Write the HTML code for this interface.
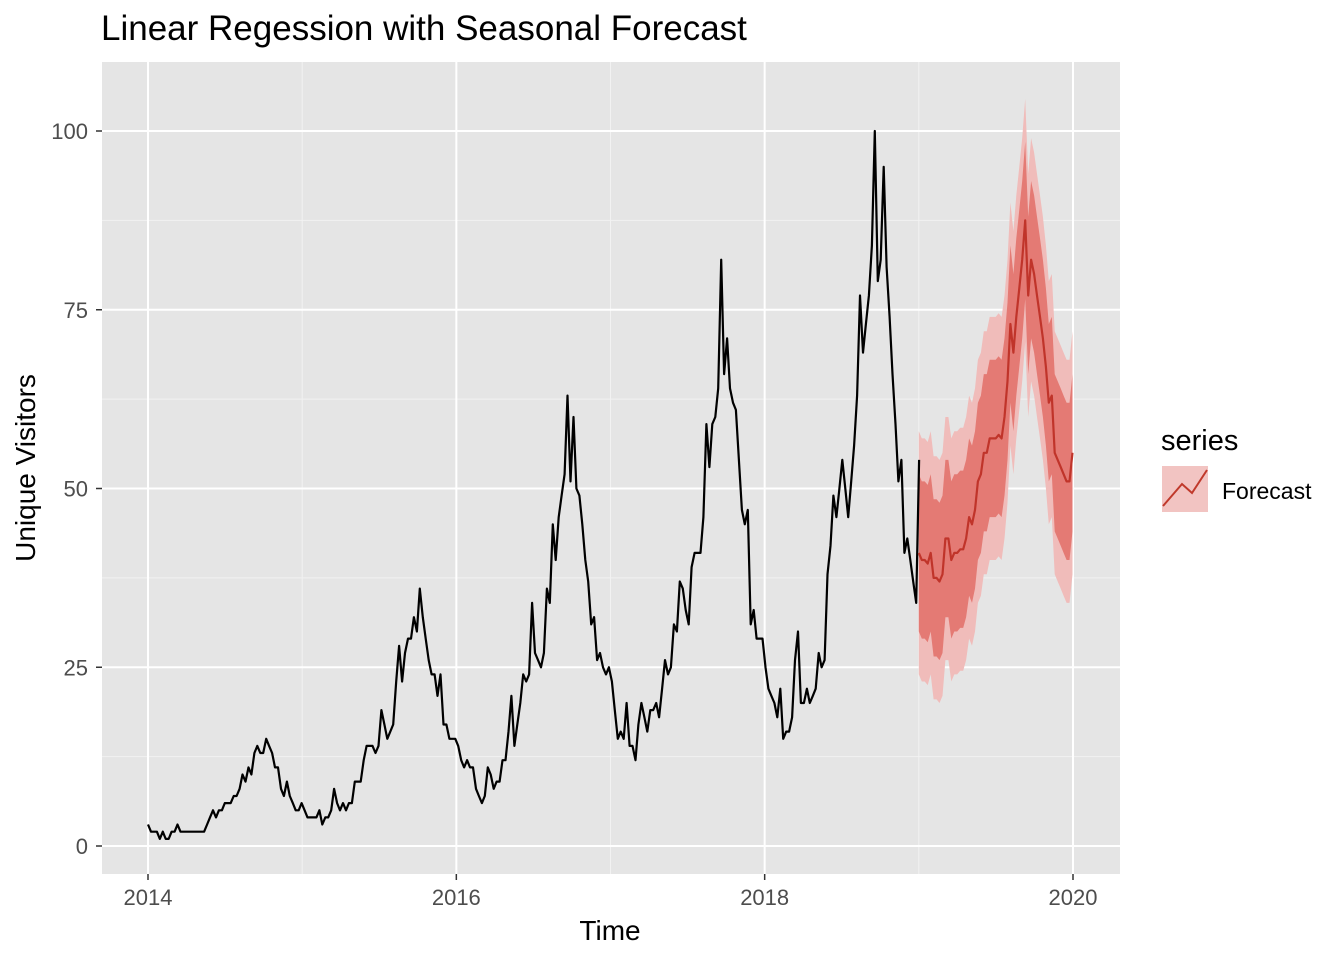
<!DOCTYPE html>
<html><head><meta charset="utf-8"><style>
body{margin:0;background:#fff;}
svg{display:block;font-family:"Liberation Sans",Arial,sans-serif;}
</style></head><body>
<svg id="chart" width="1344" height="960" viewBox="0 0 1344 960">
<rect x="102" y="62" width="1018" height="812" fill="#e5e5e5"/>
<g id="grid"></g>
<g id="bands"></g>
<g id="lines"></g>
<g id="axes"></g>
<text x="101" y="40" font-size="35" fill="#000">Linear Regession with Seasonal Forecast</text>
<text x="610" y="940" font-size="28" text-anchor="middle">Time</text>
<text transform="translate(35,468) rotate(-90)" font-size="28" text-anchor="middle">Unique Visitors</text>
<g>
<text x="1161" y="450" font-size="29">series</text>
<rect x="1162" y="466" width="46" height="46" fill="#f2c4c2"/>
<polyline points="1163,506 1182,484 1192,493 1207,470" fill="none" stroke="#c0392b" stroke-width="2"/>
<text x="1222" y="499" font-size="23">Forecast</text>
</g>
</svg>
<script>
const history = [3,2,2,2,1,2,1,1,2,2,3,2,2,2,2,2,2,2,2,2,3,4,5,4,5,5,6,6,6,7,7,8,10,9,11,10,13,14,13,13,15,14,13,11,11,8,7,9,7,6,5,5,
6,5,4,4,4,4,5,3,4,4,5,8,6,5,6,5,6,6,9,9,9,12,14,14,14,13,14,19,17,15,16,17,23,28,23,27,29,29,32,30,36,32,29,26,24,24,21,24,17,17,15,15,
15,14,12,11,12,11,11,8,7,6,7,11,10,8,9,9,12,12,16,21,14,17,20,24,23,24,34,27,26,25,27,36,34,45,40,46,49,52,63,51,60,50,49,45,40,37,31,32,26,27,25,24,
25,23,19,15,16,15,20,14,14,12,17,20,18,16,19,19,20,18,22,26,24,25,31,30,37,36,33,31,39,41,41,41,46,59,53,59,60,64,82,66,71,64,62,61,54,47,45,47,31,33,29,29,
29,25,22,21,20,18,22,15,16,16,18,26,30,20,20,22,20,21,22,27,25,26,38,42,49,46,50,54,50,46,51,56,63,77,69,73,77,84,100,79,82,95,81,74,66,59,51,54,41,43,40,37,34,54];
const fcMean = [41,40,40,39.5,41,37.5,37.5,37,38,43,43,40,41,41,41.5,41.5,43,46,45,47,51,52,55,55,57,57,57,57.5,57,60,65,73,69,74,78,82,87.5,77,82,80,77,74,71,67,62,63,55,54,53,52,51,51,55];
const hi80 = [52,51,51,50.5,52,48.5,48.5,48,49,54,54,51,52,52,52.5,52.5,54,57,56,58,62,63,66,66,68,68,68,68.5,68,71,76,84,80,85,89,93,98.5,88,93,91,88,85,82,78,73,74,66,65,64,63,62,62,66];
const lo80 = [30,29,29,28.5,30,26.5,26.5,26,27,32,32,29,30,30,30.5,30.5,32,35,34,36,40,41,44,44,46,46,46,46.5,46,49,54,62,58,63,67,71,76.5,66,71,69,66,63,60,56,51,52,44,43,42,41,40,40,44];
const hi95 = [58,57,57,56.5,58,54.5,54.5,54,55,60,60,57,58,58,58.5,58.5,60,63,62,64,68,69,72,72,74,74,74,74.5,74,77,82,90,86,91,95,99,104.5,94,99,97,94,91,88,84,79,80,72,71,70,69,68,68,72];
const lo95 = [24,23,23,22.5,24,20.5,20.5,20,21,26,26,23,24,24,24.5,24.5,26,29,28,30,34,35,38,38,40,40,40,40.5,40,43,48,56,52,57,61,65,70.5,60,65,63,60,57,54,50,45,46,38,37,36,35,34,34,38];
const xTicks = [2014,2016,2018,2020];
const yTicks = [0,25,50,75,100];
const startYear = 2014, fcStart = 2019, weeksPerYear = 52.18;

const NS = "http://www.w3.org/2000/svg";
const X0=148, X1=1073, Y0=846, Y100=131;
function sx(t){return X0+(t-2014)*(X1-X0)/6;}
function sy(v){return Y0+(v)*(Y100-Y0)/100;}
function mk(tag,attrs,parent){const e=document.createElementNS(NS,tag);for(const k in attrs)e.setAttribute(k,attrs[k]);parent.appendChild(e);return e;}
const grid=document.getElementById('grid'), axes=document.getElementById('axes');
for(let i=0;i<yTicks.length-1;i++){const v=(yTicks[i]+yTicks[i+1])/2;
 const l=mk('line',{x1:102,x2:1120,y1:sy(v),y2:sy(v),stroke:'#f2f2f2','stroke-width':1},grid);
 
 }
for(let i=0;i<xTicks.length-1;i++){const t=(xTicks[i]+xTicks[i+1])/2;
 const l=mk('line',{x1:sx(t),x2:sx(t),y1:62,y2:874,stroke:'#f2f2f2','stroke-width':1},grid);
 
 }
yTicks.forEach(v=>{
 const l=mk('line',{x1:102,x2:1120,y1:sy(v),y2:sy(v),stroke:'#fff','stroke-width':2},grid);
 
 
 mk('line',{x1:96,x2:102,y1:sy(v),y2:sy(v),stroke:'#333','stroke-width':1.5},axes);
 const tx=mk('text',{x:88,y:sy(v)+8,'font-size':22,'text-anchor':'end',fill:'#4d4d4d'},axes);
 tx.textContent=v;
 
 
});
xTicks.forEach(t=>{
 const l=mk('line',{x1:sx(t),x2:sx(t),y1:62,y2:874,stroke:'#fff','stroke-width':2},grid);
 
 
 mk('line',{x1:sx(t),x2:sx(t),y1:874,y2:880,stroke:'#333','stroke-width':1.5},axes);
 const tx=mk('text',{x:sx(t),y:905,'font-size':22,'text-anchor':'middle',fill:'#4d4d4d'},axes);
 tx.textContent=t;
 
 
});
const ft=i=>fcStart+i/weeksPerYear;
function band(hi,lo,color,name){
 let d='M'+hi.map((v,i)=>sx(ft(i)).toFixed(1)+','+sy(v).toFixed(1)).join('L');
 for(let i=lo.length-1;i>=0;i--) d+='L'+sx(ft(i)).toFixed(1)+','+sy(lo[i]).toFixed(1);
 const p=mk('path',{d:d+'Z',fill:color},document.getElementById('bands'));
 
 
}
band(hi95,lo95,'#f0bcba','band-95');
band(hi80,lo80,'#e47a74','band-80');
const lines=document.getElementById('lines');
const h=mk('polyline',{points:history.map((v,i)=>sx(startYear+i/weeksPerYear).toFixed(1)+','+sy(v).toFixed(1)).join(' '),fill:'none',stroke:'#000','stroke-width':2.2,'stroke-linejoin':'round'},lines);


const f=mk('polyline',{points:fcMean.map((v,i)=>sx(ft(i)).toFixed(1)+','+sy(v).toFixed(1)).join(' '),fill:'none',stroke:'#c0342a','stroke-width':2.2,'stroke-linejoin':'round'},lines);


</script>
</body></html>
